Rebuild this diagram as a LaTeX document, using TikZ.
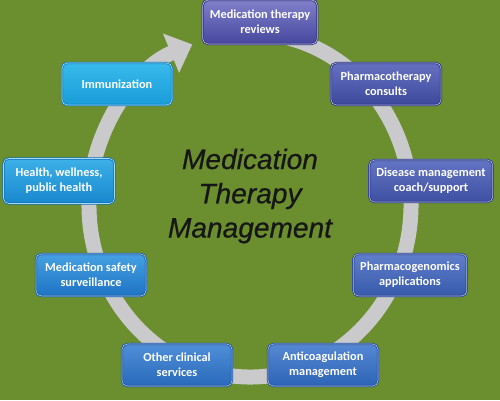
\documentclass[tikz,border=0pt]{standalone}
\usepackage{fontspec}
\setmainfont{Carlito}
\newfontfamily\titlefont[ItalicFeatures={FakeBold=0.6}]{Liberation Sans}
\usetikzlibrary{arrows.meta}

\definecolor{bggreen}{RGB}{107,142,47}
\definecolor{ringgray}{RGB}{202,202,204}
\definecolor{titlegray}{RGB}{22,22,22}
\definecolor{reviewstop}{RGB}{128,128,202}
\definecolor{reviewsbot}{RGB}{70,70,158}
\definecolor{reviewsrim}{RGB}{48,48,128}
\definecolor{consultstop}{RGB}{102,112,192}
\definecolor{consultsbot}{RGB}{60,74,156}
\definecolor{consultsrim}{RGB}{40,50,130}
\definecolor{diseasetop}{RGB}{100,116,196}
\definecolor{diseasebot}{RGB}{62,80,162}
\definecolor{diseaserim}{RGB}{40,55,136}
\definecolor{genomicstop}{RGB}{96,126,202}
\definecolor{genomicsbot}{RGB}{55,90,172}
\definecolor{genomicsrim}{RGB}{35,64,146}
\definecolor{anticoagtop}{RGB}{86,136,212}
\definecolor{anticoagbot}{RGB}{45,100,182}
\definecolor{anticoagrim}{RGB}{30,75,156}
\definecolor{clinicaltop}{RGB}{80,142,216}
\definecolor{clinicalbot}{RGB}{40,106,186}
\definecolor{clinicalrim}{RGB}{25,80,160}
\definecolor{safetytop}{RGB}{70,160,226}
\definecolor{safetybot}{RGB}{30,116,196}
\definecolor{safetyrim}{RGB}{20,90,170}
\definecolor{wellnesstop}{RGB}{60,176,232}
\definecolor{wellnessbot}{RGB}{25,136,206}
\definecolor{wellnessrim}{RGB}{15,110,186}
\definecolor{immuntop}{RGB}{56,186,236}
\definecolor{immunbot}{RGB}{25,156,216}
\definecolor{immunrim}{RGB}{15,126,196}

\tikzset{
  boxbase/.style={rounded corners=3pt, minimum width=2.2cm, minimum height=0.84cm,
    inner xsep=4pt, align=center, text=white,
    font=\fontsize{7}{8.5}\selectfont\bfseries,
    line width=0.45pt, double distance=0.35pt},
  mtmbox/.style={boxbase, top color=#1top, bottom color=#1bot, draw=#1rim, double=white!55!#1top}
}

\begin{document}
\begin{tikzpicture}[x=0.02cm, y=0.02cm]
\fill [bggreen] (0,0) rectangle (500,400);
\useasboundingbox (0,0) rectangle (500,400);
\draw [ringgray, line width=0.3cm, -{Triangle[width=0.82cm, length=0.46cm]}]
  (250,195) ++(80:161 and 172) arc [start angle=80, end angle=-249, x radius=161, y radius=172];
\node [mtmbox=reviews, minimum width=2.28cm, minimum height=0.88cm] (reviews) at (260,378) {Medication therapy\\reviews};
\node [mtmbox=consults] (consults) at (386,316) {Pharmacotherapy\\consults};
\node [mtmbox=disease] (disease) at (431,219) {Disease management\\coach/support};
\node [mtmbox=genomics] (genomics) at (410,125) {Pharmacogenomics\\applications};
\node [mtmbox=anticoag] (anticoag) at (323,35) {Anticoagulation\\management};
\node [mtmbox=clinical] (clinical) at (177,35) {Other clinical\\services};
\node [mtmbox=safety] (safety) at (91,125) {Medication safety\\surveillance};
\node [mtmbox=wellness, minimum width=2.22cm, minimum height=0.9cm] (wellness) at (59,219) {Health, wellness,\\public health};
\node [mtmbox=immun] (immun) at (117,316) {Immunization};
\node [align=center, text=titlegray, font=\titlefont\fontsize{16}{19.5}\selectfont\itshape] (title) at (250,204) {Medication\\Therapy\\Management};
\end{tikzpicture}
\end{document}
